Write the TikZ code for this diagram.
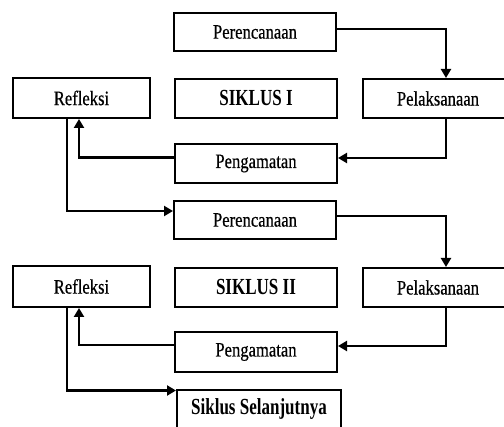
\documentclass[tikz,border=0pt]{standalone}
\usepackage{fontspec}
\newfontfamily\regfont{Liberation Serif}[FakeStretch=0.81,FakeBold=0.5]
\newfontfamily\boldfont{Liberation Serif Bold}[FakeStretch=0.74]
\usetikzlibrary{arrows.meta,calc}
\tikzset{
  box/.style={draw=black, line width=2pt, fill=white, minimum width=162pt, minimum height=38pt, inner sep=0pt, font=\regfont\fontsize{20.5}{22}\selectfont},
  bbox/.style={box, font=\boldfont\fontsize{23}{25}\selectfont},
  arr/.style={line width=2.2pt, -{Triangle[length=9pt,width=10pt]}},
}
\begin{document}
\begin{tikzpicture}[x=1pt,y=-1pt]
\useasboundingbox (0,0) rectangle (504,427);
\clip (0,0) rectangle (504,427);
% cycle I
\node[box] (p1) at (255,32) {Perencanaan};
\node[box, minimum width=137pt, minimum height=40pt] (r1) at (81.5,98) {Refleksi};
\node[bbox, minimum height=39pt] (s1) at (256,98.5) {SIKLUS I};
\node[box, minimum width=166pt, minimum height=39pt] (l1) at (446,98.5) {\hspace*{-16pt}Pelaksanaan};
\node[box, minimum height=39pt] (g1) at (256,163.5) {Pengamatan};
% cycle II
\node[box] (p2) at (255,220) {Perencanaan};
\node[box, minimum width=137pt, minimum height=41pt] (r2) at (81.5,286.5) {Refleksi};
\node[bbox, minimum height=39pt] (s2) at (256,287.5) {SIKLUS II};
\node[box, minimum width=166pt, minimum height=39pt] (l2) at (446,287.5) {\hspace*{-16pt}Pelaksanaan};
\node[box, minimum height=40pt] (g2) at (256,352) {Pengamatan};
\node[bbox, minimum width=164pt] (n) at (259,409) {Siklus Selanjutnya};
% connectors cycle I
\draw[arr] ([yshift=3pt]p1.east) -| (l1.north);
\draw[arr] (l1.south) |- ([yshift=5.5pt]g1.east);
\draw[arr] ([yshift=6pt]g1.west) -| ([xshift=-2.5pt]r1.south);
\draw[arr] ([xshift=-14.5pt]r1.south) |- ([yshift=9pt]p2.west);
% connectors cycle II
\draw[arr] ([yshift=4pt]p2.east) -| (l2.north);
\draw[arr] (l2.south) |- ([yshift=6pt]g2.east);
\draw[arr] ([yshift=7pt]g2.west) -| ([xshift=-2.5pt]r2.south);
\draw[arr] ([xshift=-14.5pt]r2.south) |- ([yshift=18.5pt]n.west);
\end{tikzpicture}
\end{document}
